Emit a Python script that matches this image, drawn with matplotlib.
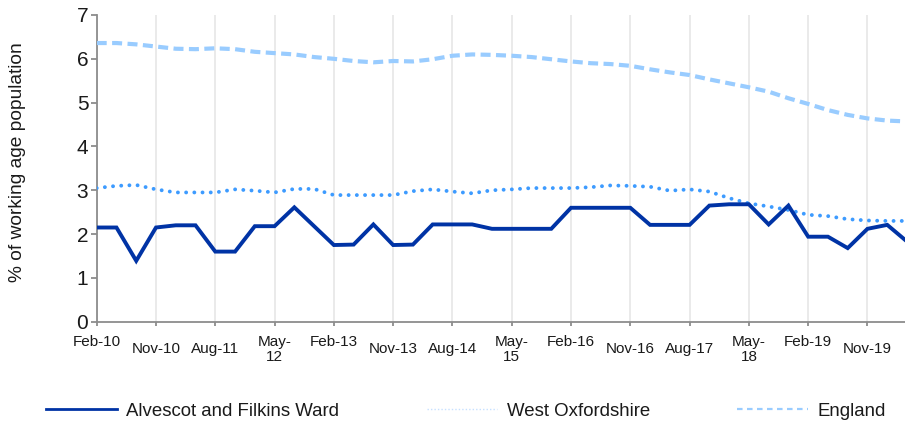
import matplotlib
matplotlib.use("Agg")
import matplotlib.pyplot as plt
from matplotlib.lines import Line2D

plt.rcParams["font.family"] = ["Liberation Sans", "DejaVu Sans"]

# quarterly series, Feb-10 .. May-20
alvescot = [2.15, 2.15, 1.39, 2.15, 2.20, 2.20, 1.60, 1.60, 2.18, 2.18,
            2.61, 2.18, 1.75, 1.76, 2.22, 1.75, 1.76, 2.22, 2.22, 2.22,
            2.12, 2.12, 2.12, 2.12, 2.60, 2.60, 2.60, 2.60, 2.21, 2.21,
            2.21, 2.65, 2.68, 2.68, 2.22, 2.65, 1.94, 1.94, 1.68, 2.12,
            2.21, 1.83]
west_oxon = [3.05, 3.10, 3.12, 3.02, 2.95, 2.95, 2.95, 3.02, 2.99, 2.95,
             3.03, 3.03, 2.89, 2.89, 2.89, 2.89, 2.98, 3.02, 2.97, 2.93,
             3.00, 3.02, 3.05, 3.05, 3.05, 3.07, 3.11, 3.10, 3.08, 2.99,
             3.02, 2.97, 2.82, 2.70, 2.63, 2.55, 2.44, 2.41, 2.34, 2.31,
             2.30, 2.30]
england = [6.36, 6.36, 6.33, 6.28, 6.23, 6.22, 6.24, 6.22, 6.16, 6.13,
           6.10, 6.04, 6.00, 5.95, 5.92, 5.95, 5.94, 5.99, 6.07, 6.10,
           6.09, 6.07, 6.04, 5.99, 5.94, 5.90, 5.88, 5.84, 5.76, 5.69,
           5.63, 5.53, 5.44, 5.35, 5.25, 5.10, 4.97, 4.83, 4.72, 4.64,
           4.59, 4.57]

tick_pos = [0, 3, 6, 9, 12, 15, 18, 21, 24, 27, 30, 33, 36, 39]
tick_labels = ["Feb-10\n ", "Nov-10", "Aug-11", "May-\n12", "Feb-13\n ",
               "Nov-13", "Aug-14", "May-\n15", "Feb-16\n ", "Nov-16",
               "Aug-17", "May-\n18", "Feb-19\n ", "Nov-19"]

DARK = "#0033a5"
MID = "#3d9bff"
LIGHT = "#99ccff"
GREY = "#8c8c8c"

fig = plt.figure(figsize=(9.05, 4.23), dpi=100)
ax = fig.add_axes([96.7 / 905, 1 - 321.7 / 423, (907 - 96.7) / 905, (321.7 - 15) / 423])

x = list(range(len(alvescot)))
ax.plot(x, england, color=LIGHT, lw=3.0, linestyle=(0, (2.4, 1.3)), zorder=3)
ax.plot(x, west_oxon, color=MID, lw=2.8, linestyle=(0, (0.01, 2.1)),
        dash_capstyle="round", zorder=3)
ax.plot(x, alvescot, color=DARK, lw=2.8, solid_joinstyle="miter", zorder=4)

ax.set_xlim(0, 41)
ax.set_ylim(0, 7)
ax.set_yticks(range(8))
ax.set_xticks(tick_pos, tick_labels, va="center", ha="center",
              linespacing=1.15)
ax.xaxis.grid(True, color="#e8e8e8", lw=1.3)
ax.set_axisbelow(True)

for s in ["top", "right"]:
    ax.spines[s].set_visible(False)
for s in ["left", "bottom"]:
    ax.spines[s].set_color(GREY)
    ax.spines[s].set_linewidth(1.3)

ax.tick_params(axis="x", length=3, width=1.3, color=GREY, pad=17,
               labelsize=11, labelcolor="#1a1a1a")
ax.tick_params(axis="y", length=4, width=1.3, color=GREY, pad=2,
               labelsize=15, labelcolor="#1a1a1a")

fig.text(18 / 905, 1 - 162 / 423, "% of working age population",
         rotation=90, ha="center", va="center", fontsize=13.8, color="#1a1a1a")

handles = [
    Line2D([], [], color=DARK, lw=2),
    Line2D([], [], color="#c6e0ff", lw=1, linestyle=(0, (1, 1.5))),
    Line2D([], [], color=LIGHT, lw=1.6, linestyle=(0, (2.5, 2))),
]
names = ["Alvescot and Filkins Ward", "West Oxfordshire", "England"]
fig.legend(handles, names, loc="center", ncol=3, frameon=False,
           bbox_to_anchor=(466 / 905, 1 - 411 / 423), fontsize=13.4,
           handlelength=3.8, handletextpad=0.5, columnspacing=4.7,
           labelcolor="#1a1a1a")

fig.savefig("out.png", dpi=100)
